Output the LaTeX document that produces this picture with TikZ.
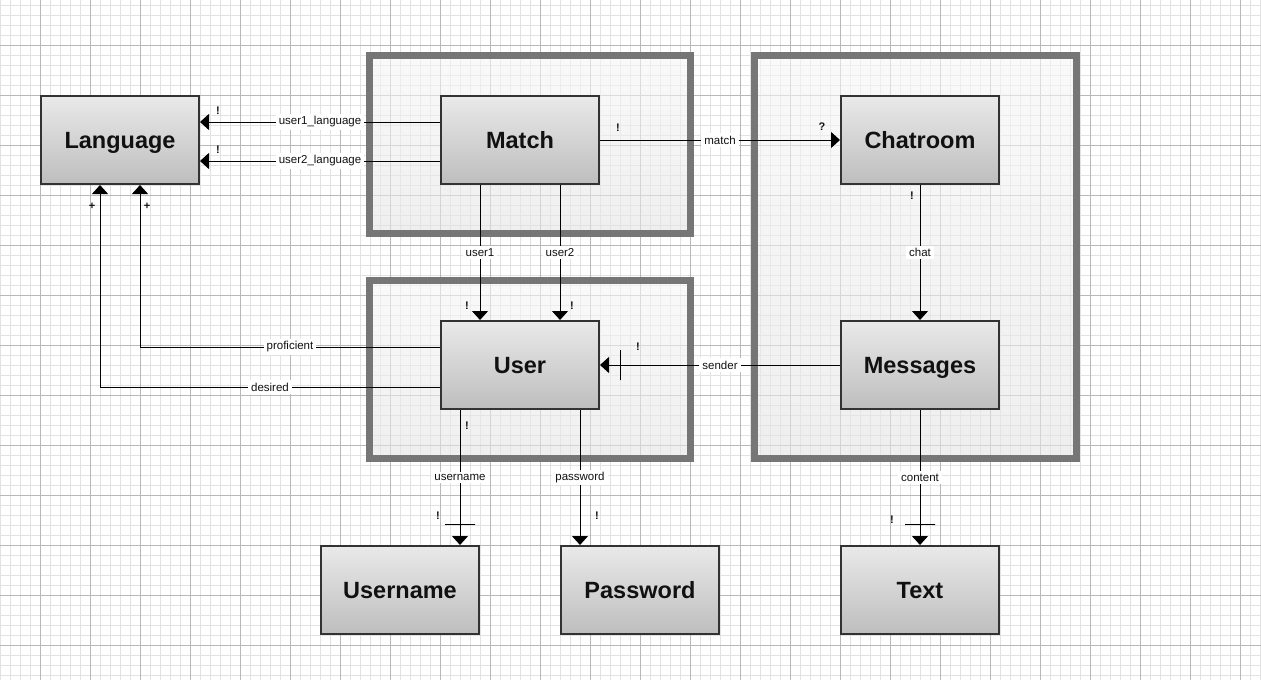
\documentclass[tikz,border=0pt]{standalone}
\usepackage{fontspec}
\setmainfont{Liberation Sans}
\usetikzlibrary{arrows.meta,positioning}
\definecolor{cGridFine}{HTML}{E2E2E2}
\definecolor{cGridBold}{HTML}{B8B8B8}
\definecolor{cFrame}{HTML}{767676}
\definecolor{cGroupTop}{HTML}{F6F6F6}
\definecolor{cGroupBottom}{HTML}{E4E4E4}
\definecolor{cBoxTop}{HTML}{E9E9E9}
\definecolor{cBoxBottom}{HTML}{BEBEBE}
\definecolor{cBoxLine}{HTML}{333333}
\definecolor{cInk}{HTML}{111111}
\tikzset{
    gridfine/.style={
        draw=cGridFine,
        line width=0.9pt
    },
    gridbold/.style={
        draw=cGridBold,
        line width=0.9pt
    },
    groupbox/.style={
        draw=cFrame,
        line width=7pt,
        top color=cGroupTop,
        bottom color=cGroupBottom,
        fill opacity=0.6
    },
    entity/.style={
        rectangle,
        draw=cBoxLine,
        line width=2pt,
        top color=cBoxTop,
        bottom color=cBoxBottom,
        minimum width=158pt,
        minimum height=88pt,
        text height=16.5pt,
        text depth=0pt,
        text=cInk,
        font=\fontsize{23.5}{27}\selectfont\bfseries
    },
    rel/.style={
        draw=black,
        line width=1pt,
        ->
    },
    lbl/.style={
        fill=white,
        text=cInk,
        inner xsep=3pt,
        inner ysep=2.5pt,
        font=\fontsize{11.5}{13}\selectfont
    },
    cardmark/.style={
        text=cInk,
        inner sep=0pt,
        font=\fontsize{11}{11}\selectfont\bfseries
    },
    barH/.style={
        draw=black,
        line width=1pt,
        minimum width=30pt,
        minimum height=0pt,
        inner sep=0pt,
        outer sep=0pt
    },
    barV/.style={
        draw=black,
        line width=1pt,
        minimum width=0pt,
        minimum height=30pt,
        inner sep=0pt,
        outer sep=0pt
    }
}

\begin{document}
\begin{tikzpicture}[x=1pt,y=-1pt,>={Triangle[width=16pt,length=9pt]}]
    \useasboundingbox (0,0) rectangle (1261,680);
    % grid
    \foreach \gx in {0,10,...,1260} \draw[gridfine] (\gx,0) -- (\gx,680);
    \foreach \gy in {5,15,...,675} \draw[gridfine] (0,\gy) -- (1261,\gy);
    \foreach \gx in {40,90,...,1240} \draw[gridbold] (\gx,0) -- (\gx,680);
    \foreach \gy in {45,95,...,645} \draw[gridbold] (0,\gy) -- (1261,\gy);
    % groups
    \draw[groupbox] (369.5,55.5) rectangle (690.5,233.5);
    \draw[groupbox] (369.5,280.5) rectangle (690.5,458.5);
    \draw[groupbox] (754.5,55.5) rectangle (1076.5,458.5);
    % entities
    \node [entity] (match) at (520,140) {Match};
    \node [entity] (language) [left=240pt of match] {Language};
    \node [entity] (chatroom) [right=240pt of match] {Chatroom};
    \node [entity] (user) [below=135pt of match] {User};
    \node [entity] (messages) [below=135pt of chatroom] {Messages};
    \node [entity] (username) [below=135pt of user,xshift=-120pt] {Username};
    \node [entity] (password) [below=135pt of user,xshift=120pt] {Password};
    \node [entity] (text) [below=135pt of messages] {Text};
    % relations
    \draw[rel] ([yshift=18pt]match.west) -- node[lbl]{user1\_language}
        node[cardmark,pos=0.925,yshift=11pt]{!} ([yshift=18pt]language.east);
    \draw[rel] ([yshift=-21pt]match.west) -- node[lbl]{user2\_language}
        node[cardmark,pos=0.925,yshift=11pt]{!} ([yshift=-21pt]language.east);
    \draw[rel] (match.east) -- node[lbl]{match}
        node[cardmark,pos=0.075,yshift=12pt]{!}
        node[cardmark,pos=0.925,yshift=13pt]{?} (chatroom.west);
    \draw[rel] ([xshift=-40pt]match.south) -- node[lbl]{user1}
        node[cardmark,pos=0.895,xshift=-13pt]{!} ([xshift=-40pt]user.north);
    \draw[rel] ([xshift=40pt]match.south) -- node[lbl]{user2}
        node[cardmark,pos=0.895,xshift=12pt]{!} ([xshift=40pt]user.north);
    \draw[rel] (chatroom.south) -- node[lbl]{chat}
        node[cardmark,pos=0.08,xshift=-8pt]{!} (messages.north);
    \draw[rel] (messages.west) -- node[lbl]{sender}
        node[cardmark,pos=0.842,yshift=18pt]{!}
        node[barV,pos=0.916]{} (user.east);
    \draw[rel] ([yshift=18pt]user.west) -| node[lbl,pos=0.25]{proficient}
        node[cardmark,pos=0.935,xshift=7pt]{+} ([xshift=20pt]language.south);
    \draw[rel] ([yshift=-22pt]user.west) -| node[lbl,pos=0.25]{desired}
        node[cardmark,pos=0.948,xshift=-8pt]{+} ([xshift=-20pt]language.south);
    \draw[rel] ([xshift=-60pt]user.south) -- node[lbl]{username}
        node[cardmark,pos=0.118,xshift=7pt]{!}
        node[cardmark,pos=0.78,xshift=-22pt]{!}
        node[barH,pos=0.846]{} ([xshift=60pt]username.north);
    \draw[rel] ([xshift=60pt]user.south) -- node[lbl]{password}
        node[cardmark,pos=0.78,xshift=17pt]{!} ([xshift=-60pt]password.north);
    \draw[rel] (messages.south) -- node[lbl]{content}
        node[cardmark,pos=0.816,xshift=-28pt]{!}
        node[barH,pos=0.846]{} (text.north);
\end{tikzpicture}
\end{document}
